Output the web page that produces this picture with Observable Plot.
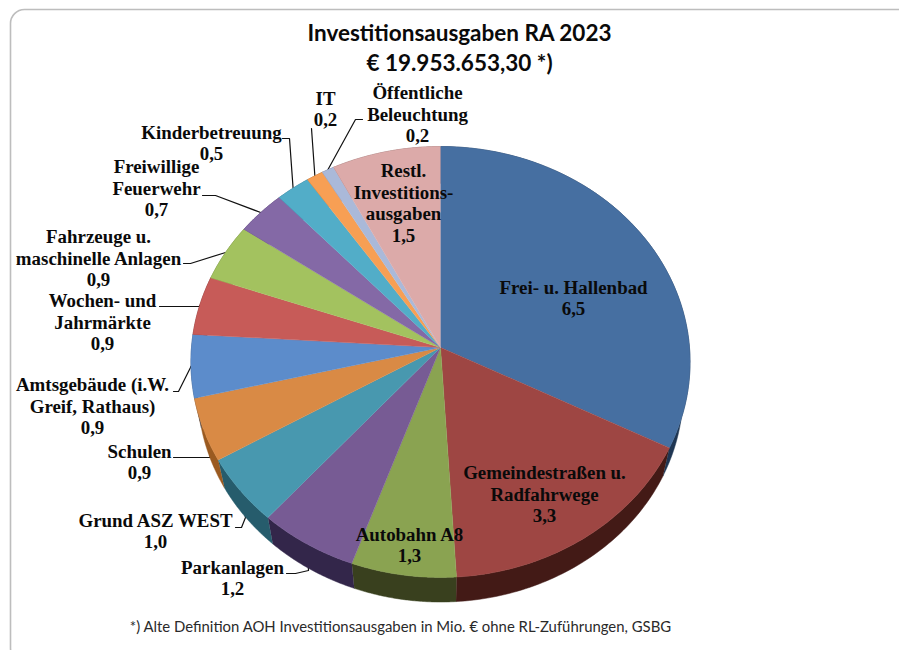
<!DOCTYPE html>
<html>
<head>
<meta charset="utf-8">
<style>
html,body{margin:0;padding:0;background:#fff}
svg{display:block}
</style>
<script src="https://cdn.jsdelivr.net/npm/d3@7"></script>
<script src="https://cdn.jsdelivr.net/npm/@observablehq/plot@0.6"></script>
</head>
<body>
<div id="chart"></div>
<script>
// --- data -------------------------------------------------------------
const titleLines = ["Investitionsausgaben RA 2023", "€ 19.953.653,30 *)"];
const footnote = "*) Alte Definition AOH Investitionsausgaben in Mio. € ohne RL-Zuführungen, GSBG";
const categories = [
  "Frei- u. Hallenbad", "Gemeindestraßen u.\nRadfahrwege", "Autobahn A8", "Parkanlagen",
  "Grund ASZ WEST", "Schulen", "Amtsgebäude (i.W.\nGreif, Rathaus)", "Wochen- und\nJahrmärkte",
  "Fahrzeuge u.\nmaschinelle Anlagen", "Freiwillige\nFeuerwehr", "Kinderbetreuung", "IT",
  "Öffentliche\nBeleuchtung", "Restl.\nInvestitions-\nausgaben"
];
// values; labels show them rounded to one decimal
const values = [6.48, 3.30, 1.27, 1.20, 1.02, 0.94, 0.94, 0.88, 0.86, 0.68, 0.47, 0.23, 0.17, 1.50];
const topColors = ["#466fa1", "#9e4643", "#8aa351", "#775b94", "#4898af", "#d98a45", "#5c8ccb",
  "#c75b58", "#a3c25f", "#8469a6", "#52adc8", "#f79f54", "#aab9d9", "#dcaaa9"];
const sideColors = ["#1f3653", "#431a16", "#39401e", "#33264a", "#265c6c", "#9a5a20", "#2c4a70",
  "#6a2a28", "#5a6e30", "#46365c", "#2c6478", "#8a5528", "#5c6680", "#7e5a5a"];

// --- label layout (pixels) ---------------------------------------------
const labelX = [573, 544, 409, 232, 155, 139, 92, 102, 98, 156, 211, 325, 417, 403];
const labelY = [297, 493, 544, 577, 530, 461, 405, 321, 257, 187, 142, 108, 113, 202];
const leaderElbows = [
  null, null, null,
  [[286,573],[295,573],[308,570]],
  [[235,527],[241,527],[245,517]],
  [[173,457],[210,457]],
  [[173,391],[178,391],[190,367]],
  [[159,306],[199,306]],
  [[183,263],[190,263]],
  [[202,195],[215,195]],
  [[282,138],[289,138]],
  [[311,128]],
  [[362,119],[355,119]],
  null
];

// --- pie geometry in disc units ---------------------------------------
const W = 899, H = 650, CX = 440, CY = 347, RX = 249, RY = 214.5;
const K = 0.0672, BOTTOM_SCALE = 0.972, DEPTH = 31 / RY;
const total = d3.sum(values);
const cum = d3.cumsum(values);
const project = (theta, bottom = false) => {
  const u = Math.sin(theta), v = -Math.cos(theta);
  const s = 1 / (1 - K * v);
  const f = bottom ? BOTTOM_SCALE : 1;
  return [u * s * f, v * s * f + (bottom ? DEPTH : 0)];
};
const slices = values.map((v, i) => {
  const a0 = (cum[i] - v) / total * 2 * Math.PI;
  const a1 = cum[i] / total * 2 * Math.PI;
  return {i, a0, a1};
});
const arc = (a0, a1, bottom) => d3.range(0, 61).map(k => project(a0 + (a1 - a0) * k / 60, bottom));

const topRows = slices.flatMap(({i, a0, a1}) =>
  [[0, 0], ...arc(a0, a1, false)].map(([x, y]) => ({x, y, z: i, fill: topColors[i]})));
const sideRows = slices.flatMap(({i, a0, a1}) =>
  [...arc(a0, a1, false), ...arc(a0, a1, true).reverse()].map(([x, y]) => ({x, y, z: i, fill: sideColors[i]})));

const sx = d3.scaleLinear().domain([0, W]).range([-CX / RX, (W - CX) / RX]);
const sy = d3.scaleLinear().domain([0, H]).range([-CY / RY, (H - CY) / RY]);
const leaderRows = slices.flatMap(({i, a0, a1}) => {
  if (!leaderElbows[i]) return [];
  const rim = project((a0 + a1) / 2);
  return [...leaderElbows[i].map(([px, py]) => [sx(px), sy(py)]), rim].map(([x, y]) => ({x, y, z: i}));
});
const comma = v => v.toFixed(1).replace(".", ",");
const labels = categories.map((c, i) => ({
  text: c + "\n" + comma(values[i]), x: sx(labelX[i]), y: sy(labelY[i])
}));

const chart = Plot.plot({
  width: W, height: H,
  margin: 0,
  style: {background: "#fff"},
  x: {domain: [-CX / RX, (W - CX) / RX], range: [0, W], axis: null},
  y: {domain: [-CY / RY, (H - CY) / RY], range: [0, H], axis: null},
  marks: [
    Plot.rect([0], {
      x1: () => sx(10.5), x2: () => sx(1000), y1: () => sy(9.5), y2: () => sy(662),
      fill: "#fff", stroke: "#bdbdbd", strokeWidth: 1.6, rx: 14
    }),
    Plot.line(leaderRows, {x: "x", y: "y", z: "z", stroke: "#111", strokeWidth: 1.2}),
    Plot.line(sideRows, {x: "x", y: "y", z: "z", fill: "fill", stroke: "fill", strokeWidth: 0.5, curve: "linear"}),
    Plot.line(topRows, {x: "x", y: "y", z: "z", fill: "fill", stroke: "fill", strokeWidth: 0.5, curve: "linear"}),
    Plot.text(labels, {
      x: "x", y: "y", text: "text", fontFamily: "Liberation Serif", fontWeight: "bold",
      fontSize: 18.9, lineHeight: 1.16, fill: "#0a0a0a", textAnchor: "middle"
    }),
    Plot.text(titleLines, {
      x: () => sx(459), y: (d, i) => sy(33 + i * 30), text: d => d,
      fontFamily: "Lato", fontWeight: "bold", fontSize: 22.5, fill: "#0a0a0a"
    }),
    Plot.text([footnote], {
      x: () => sx(400), y: () => sy(627), text: d => d,
      fontFamily: "Lato", fontSize: 14.9, fill: "#2a2a2a"
    })
  ]
});
document.getElementById("chart").appendChild(chart);
</script>
</body>
</html>
